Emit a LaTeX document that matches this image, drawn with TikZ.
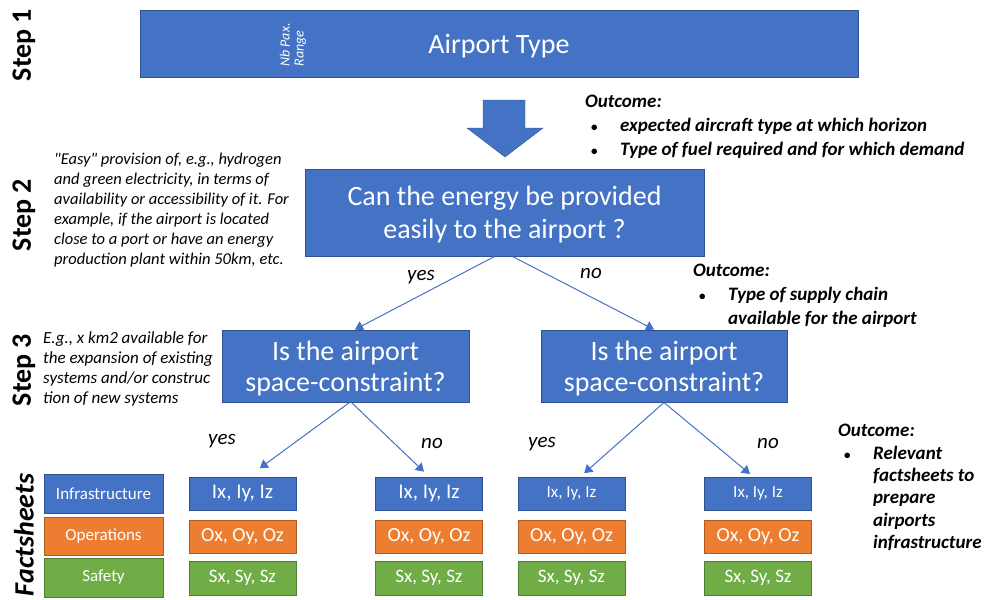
\documentclass[tikz,border=0pt]{standalone}
\usepackage{fontspec}
\setmainfont{Carlito}
\usetikzlibrary{arrows.meta, positioning}
\definecolor{ppblue}{HTML}{4472C4}
\definecolor{ppblueline}{HTML}{2F528F}
\definecolor{pporange}{HTML}{ED7D31}
\definecolor{pporangeline}{HTML}{AE5A21}
\definecolor{ppgreen}{HTML}{70AD47}
\definecolor{ppgreenline}{HTML}{507E32}
\newcommand{\fsz}[2]{\fontsize{#1}{#2}\selectfont}
\newcommand{\outitem}{\hspace*{6pt}\makebox[29pt][l]{\upshape\fontsize{13}{13}\selectfont\textbullet}}
\newcommand{\outindent}{\hspace*{35pt}}

\begin{document}
\begin{tikzpicture}[x=1pt, y=-1pt,
    bluebox/.style={draw=ppblueline, fill=ppblue, text=white, line width=1pt, inner sep=0pt, align=center},
    orangebox/.style={bluebox, draw=pporangeline, fill=pporange},
    greenbox/.style={bluebox, draw=ppgreenline, fill=ppgreen},
    bigbox/.style={bluebox, font=\fsz{28}{31}, text depth=0pt},
    steplabel/.style={rotate=90, font=\fsz{28}{34}\bfseries},
    note/.style={font=\fsz{16.5}{20}\itshape, align=left, inner sep=0pt, anchor=north west},
    outcome/.style={font=\fsz{19}{24}\bfseries\itshape, align=left, inner sep=0pt, anchor=north west},
    answer/.style={font=\fsz{21}{24}\itshape},
    flow/.style={draw=ppblue, line width=1pt, -{Triangle[width=10pt,length=8pt]}}
  ]
  \useasboundingbox (0,0) rectangle (986,600);

  % Step labels
  \node[steplabel] (s1) at (24,45) {Step 1};
  \node[steplabel] (s2) at (24,215) {Step 2};
  \node[steplabel] (s3) at (24,370) {Step 3};
  \node[steplabel, font=\fsz{28}{34}\bfseries\itshape] (s4) at (24,535) {Factsheets};

  % Step 1
  \node[bigbox, minimum width=718pt, minimum height=67pt] (type) at (499,43.5) {Airport Type};
  \node[rotate=90, text=white, font=\fsz{14}{14}\itshape, align=left] (pax) at (293,45) {Nb Pax.\\Range};
  \draw[ppblueline, fill=ppblue] (483,100) -- (525,100) -- (525,128) -- (543,128) -- (505,157)
    -- (467,128) -- (483,128) -- cycle;
  \node[outcome] (out1) at (585,95) {Outcome:\\
    \outitem expected aircraft type at which horizon\\
    \outitem Type of fuel required and for which demand};

  % Step 2
  \node[bigbox, minimum width=399pt, minimum height=87pt, font=\fsz{28}{33}] (energy) at (504.5,212.5)
    {Can the energy be provided\\easily to the airport ?};
  \node[note] (note2) at (54,153) {\textquotedbl Easy\textquotedbl\ provision of, e.g., hydrogen\\
    and green electricity, in terms of\\
    availability or accessibility of it. For\\
    example, if the airport is located\\
    close to a port or have an energy\\
    production plant within 50km, etc.};
  \node[outcome] (out2) at (693,264) {Outcome:\\
    \outitem Type of supply chain\\
    \outindent available for the airport};

  % Step 3
  \node[bigbox, minimum width=247pt, minimum height=72pt] (spaceL) at (345.5,366)
    {Is the airport\\space-constraint?};
  \node[bigbox, minimum width=246pt, minimum height=72pt] (spaceR) at (664,366)
    {Is the airport\\space-constraint?};
  \node[note, font=\fsz{17}{20}\itshape] (note3) at (43,331) {E.g., x km2 available for\\
    the expansion of existing\\
    systems and/or construc\\
    tion of new systems};

  \draw[flow] ([xshift=-10pt]energy.south) -- ([xshift=9.5pt]spaceL.north);
  \draw[flow] ([xshift=8pt]energy.south) -- ([xshift=-10pt]spaceR.north);
  \node[answer] (y1) at (421,277) {yes};
  \node[answer] (n1) at (591,273) {no};

  % Factsheets
  \node[bluebox, minimum width=119pt, minimum height=39pt, font=\fsz{17}{20}] (infra) at (103.5,493.5) {Infrastructure};
  \node[orangebox, minimum width=119pt, minimum height=38pt, font=\fsz{17}{20}] (ops) at (103.5,536) {Operations};
  \node[greenbox, minimum width=119pt, minimum height=39pt, font=\fsz{17}{20}] (safety) at (103.5,577.5) {Safety};

  \foreach \n/\x/\isz in {1/242.5/21, 2/429/21, 3/571.5/17, 4/758/17} {
    \node[bluebox, minimum width=107pt, minimum height=33pt, font=\fsz{\isz}{24}] (ix\n) at (\x,493.5) {Ix, Iy, Iz};
    \node[orangebox, minimum width=107pt, minimum height=33pt, font=\fsz{20}{24}] (ox\n) at (\x,536.5) {Ox, Oy, Oz};
    \node[greenbox, minimum width=107pt, minimum height=34pt, font=\fsz{19}{24}] (sx\n) at (\x,578) {Sx, Sy, Sz};
  }

  \draw[flow, shorten >=14pt] ([xshift=4pt]spaceL.south) -- ([xshift=6pt]ix1.north);
  \draw[flow, shorten >=7pt] ([xshift=6pt]spaceL.south) -- (ix2.north);
  \draw[flow, shorten >=5pt] (spaceR.south) -- ([xshift=9pt]ix3.north);
  \draw[flow, shorten >=4pt] (spaceR.south) -- ([xshift=-5pt]ix4.north);
  \node[answer] (y2) at (222,441) {yes};
  \node[answer] (n2) at (432,443) {no};
  \node[answer] (y3) at (542,444) {yes};
  \node[answer] (n3) at (768,443) {no};

  \node[outcome, font=\fsz{19}{22.4}\bfseries\itshape] (out3) at (838,424) {Outcome:\\
    \outitem Relevant\\
    \outindent factsheets to\\
    \outindent prepare\\
    \outindent airports\\
    \outindent infrastructure};
\end{tikzpicture}
\end{document}
